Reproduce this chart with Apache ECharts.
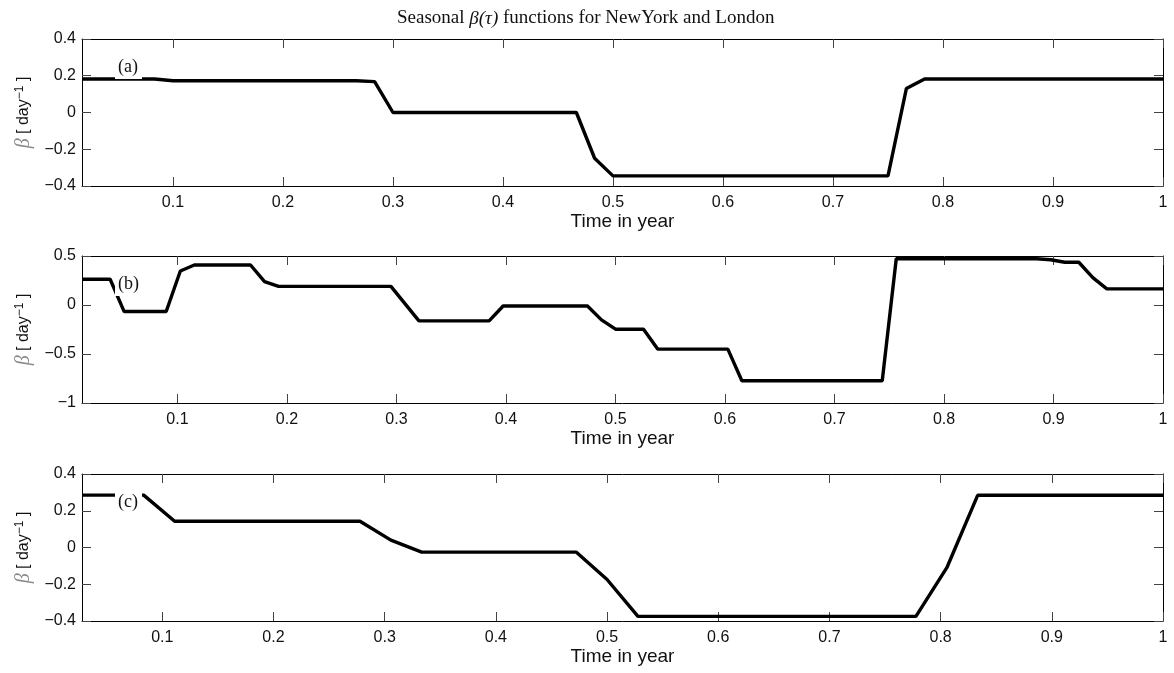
<!DOCTYPE html>
<html>
<head>
<meta charset="utf-8">
<title>Seasonal beta functions</title>
<script src="https://cdn.jsdelivr.net/npm/echarts@6/dist/echarts.min.js"></script>
<style>
    html, body { margin: 0; padding: 0; background: #fff; }
    #chart { width: 1174px; height: 673px; }
</style>
</head>
<body>
<div id="chart"></div>
<script>
// (a)
const timeA = [0.0173, 0.0833, 0.1, 0.2667, 0.2833, 0.3, 0.4667, 0.4833, 0.5, 0.75, 0.7667, 0.7833, 1]
const betaA = [0.182, 0.182, 0.173, 0.173, 0.168, 0, 0, -0.249, -0.345, -0.345, 0.13, 0.182, 0.182]
// (b)
const timeB = [0.0128, 0.0385, 0.0513, 0.0897, 0.1026, 0.1154, 0.1667, 0.1795, 0.1923, 0.2949, 0.3205, 0.3846, 0.3974,
    0.4744, 0.4872, 0.5, 0.5256, 0.5385, 0.6026, 0.6154, 0.7436, 0.7564, 0.8846, 0.8974, 0.9103, 0.9231, 0.9359, 0.9487, 1]
const betaB = [0.263, 0.263, -0.067, -0.067, 0.347, 0.408, 0.408, 0.238, 0.19, 0.19, -0.162, -0.162, -0.01,
    -0.01, -0.152, -0.247, -0.247, -0.45, -0.45, -0.773, -0.773, 0.472, 0.472, 0.462, 0.436, 0.436, 0.28, 0.165, 0.165]
// (c)
const timeC = [0.0278, 0.0833, 0.1111, 0.2778, 0.3056, 0.3333, 0.4722, 0.5, 0.5278, 0.7778, 0.8056, 0.8333, 1]
const betaC = [0.285, 0.285, 0.143, 0.143, 0.04, -0.025, -0.025, -0.174, -0.375, -0.375, -0.11, 0.284, 0.284]

const xTicks = [0.1, 0.2, 0.3, 0.4, 0.5, 0.6, 0.7, 0.8, 0.9, 1]
const panelLabels = ['(a)', '(b)', '(c)']
const yRanges = [[-0.4, 0.4, 0.2], [-1, 0.5, 0.5], [-0.4, 0.4, 0.2]]
const xMins = [timeA[0], timeB[0], timeC[0]]

const series = [[timeA, betaA], [timeB, betaB], [timeC, betaC]]
const gridTops = [39, 256, 474]
const labelTops = [56, 273, 491]

const sansFont = 'Liberation Sans, Arial, sans-serif'
const fmtY = (v) => (v < 0 ? '\u2212' + Math.abs(v) : String(v))

const grid = []
const xAxis = []
const yAxis = []
const seriesList = []
const graphic = []

gridTops.forEach((top, i) => {
    grid.push({ left: 82, right: 11, top: top, height: 147 })
    const tick = { show: true, inside: true, length: 9, lineStyle: { color: '#444' }, customValues: xTicks }
    xAxis.push({
        type: 'value', gridIndex: i, position: 'bottom', min: xMins[i], max: 1,
        axisLine: { onZero: false, lineStyle: { color: '#000', width: 1 } },
        axisTick: tick,
        axisLabel: { customValues: xTicks, color: '#111', fontSize: 16, fontFamily: sansFont, margin: 9 },
        splitLine: { show: false },
        name: 'Time in year', nameLocation: 'middle', nameGap: 26,
        nameTextStyle: { color: '#111', fontSize: 19, fontFamily: sansFont }
    })
    xAxis.push({
        type: 'value', gridIndex: i, position: 'top', min: xMins[i], max: 1,
        axisLine: { onZero: false, lineStyle: { color: '#000', width: 1 } },
        axisTick: tick,
        axisLabel: { show: false },
        splitLine: { show: false }
    })
    const [ymin, ymax, step] = yRanges[i]
    yAxis.push({
        type: 'value', gridIndex: i, position: 'left', min: ymin, max: ymax, interval: step,
        axisLine: { show: true, onZero: false, lineStyle: { color: '#000', width: 1 } },
        axisTick: { show: true, inside: true, length: 9, lineStyle: { color: '#444' } },
        axisLabel: { color: '#111', fontSize: 16, fontFamily: sansFont, margin: 6, formatter: fmtY },
        splitLine: { show: false },
        name: '{b|\u03b2} [ {d|day}{s|\u22121} ]', nameLocation: 'middle', nameRotate: 90, nameGap: 48,
        nameTextStyle: {
            color: '#111', fontSize: 16, fontFamily: sansFont,
            rich: {
                b: { color: '#8a8a8a', fontSize: 20, fontFamily: 'Liberation Serif, serif', fontStyle: 'italic' },
                d: { color: '#111', fontSize: 16, fontFamily: sansFont },
                s: { color: '#111', fontSize: 12, fontFamily: sansFont, verticalAlign: 'top' }
            }
        }
    })
    yAxis.push({
        type: 'value', gridIndex: i, position: 'right', min: ymin, max: ymax, interval: step,
        axisLine: { show: true, onZero: false, lineStyle: { color: '#000', width: 1 } },
        axisTick: { show: true, inside: true, length: 9, lineStyle: { color: '#444' } },
        axisLabel: { show: false },
        splitLine: { show: false }
    })
    const [t, b] = series[i]
    seriesList.push({
        type: 'line', xAxisIndex: i * 2, yAxisIndex: i * 2,
        data: t.map((x, k) => [x, b[k]]),
        showSymbol: false, symbol: 'none',
        lineStyle: { color: '#000', width: 3.4 },
        z: 2,
        animation: false
    })
    graphic.push({
        type: 'text', left: 115, top: labelTops[i], z: 100,
        style: {
            text: panelLabels[i], fill: '#111', font: '18px "Liberation Serif", serif',
            backgroundColor: '#fff', padding: [2, 4, 3, 3]
        }
    })
})

const myChart = echarts.init(document.getElementById('chart'))
const option = {
    backgroundColor: '#fff',
    animation: false,
    title: {
        text: '{n|Seasonal }{m|\u03b2(\u03c4)}{n| functions for NewYork and London}',
        left: 392, top: 4,
        textStyle: {
            fontWeight: 'normal',
            rich: {
                n: { fontFamily: 'Liberation Serif, serif', fontSize: 19, fontWeight: 'normal', color: '#111' },
                m: { fontFamily: 'Liberation Serif, serif', fontSize: 19, fontWeight: 'normal', fontStyle: 'italic', color: '#111' }
            }
        }
    },
    grid: grid,
    xAxis: xAxis,
    yAxis: yAxis,
    series: seriesList,
    graphic: graphic
}
myChart.setOption(option)
</script>
</body>
</html>
